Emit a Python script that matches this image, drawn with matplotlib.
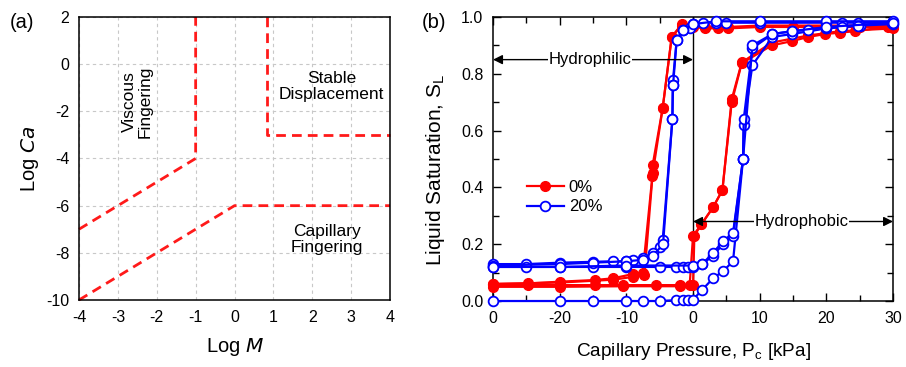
import matplotlib
matplotlib.use("Agg")
import matplotlib.pyplot as plt
from matplotlib.ticker import MultipleLocator

plt.rcParams['font.family'] = ['Liberation Sans', 'DejaVu Sans']
plt.rcParams['axes.unicode_minus'] = False
plt.rcParams['mathtext.default'] = 'regular'

# ─────────── (a) phase diagram boundaries ───────────
vf_x = [-4, -1, -1]          # viscous fingering boundary
vf_y = [-7, -4, 2]
cf_x = [-4, 0, 4]            # capillary fingering boundary
cf_y = [-10, -6, -6]
sd_x = [0.83, 0.83, 4]       # stable displacement boundary
sd_y = [2, -3, -3]

# ─────────── (b) saturation loops ───────────
# 0 % – drainage (high Pc → low Pc)
r1_pc = [30, 25, 20, 15, 10, 5.3, 3.75, 1.8, 0, -1.7, -3.2, -4.55, -6.05, -6.1, -7.55, -9, -12, -14.7, -20, -24.7, -30]
r1_s  = [0.965, 0.965, 0.965, 0.965, 0.965, 0.96, 0.96, 0.96, 0.965, 0.97, 0.93, 0.68, 0.48, 0.44, 0.10, 0.095, 0.08, 0.074, 0.068, 0.062, 0.06]
# 0 % – imbibition (low Pc → high Pc)
r2_pc = [-30, -24.7, -20, -14.7, -10.5, -5.5, -2, -0.5, 0, 1.25, 3, 4.4, 5.8, 7.3, 11.8, 14.8, 17.3, 19.8, 22, 24.3, 29.2]
r2_s  = [0.056, 0.056, 0.056, 0.056, 0.056, 0.056, 0.056, 0.058, 0.23, 0.27, 0.33, 0.39, 0.70, 0.837, 0.90, 0.915, 0.93, 0.94, 0.945, 0.95, 0.966]
# 0 % – second cycle
r3_pc = [30, 20, 10, 5.3, 1.8, 0, -1.7, -3.2, -4.55, -6.05, -7.3, -9, -12, -20, -30]
r3_s  = [0.97, 0.97, 0.97, 0.965, 0.965, 0.97, 0.975, 0.93, 0.68, 0.45, 0.09, 0.085, 0.075, 0.065, 0.06]
r4_pc = [-30, -20, -10.5, -2, 0, 0.2, 1.25, 3, 4.4, 5.8, 7.3, 11.8, 17.3, 22, 30]
r4_s  = [0.05, 0.05, 0.052, 0.052, 0.055, 0.23, 0.27, 0.33, 0.39, 0.71, 0.84, 0.91, 0.935, 0.95, 0.96]

# 20 % – first imbibition (starts dry)
b0_pc = [-30, -20, -15, -10, -7.5, -5, -2.5, -1.5, -0.75, 0, 1.4, 3, 4.5, 6, 7.5, 7.6, 8.9, 11.9, 14.8, 20, 25, 30]
b0_s  = [0.0, 0.0, 0.0, 0.0, 0.0, 0.0, 0.003, 0.004, 0.005, 0.005, 0.04, 0.08, 0.105, 0.14, 0.50, 0.62, 0.83, 0.93, 0.94, 0.96, 0.97, 0.975]
# 20 % – drainage
b1_pc = [29.8, 24.8, 22.3, 20, 10, 5, 3.5, 1.55, 0, -0.5, -1.5, -2.45, -3, -3.05, -3.1, -4.55, -5, -6, -7.5, -9, -10, -12, -15, -20, -25, -30]
b1_s  = [0.98, 0.98, 0.98, 0.98, 0.98, 0.98, 0.98, 0.98, 0.975, 0.96, 0.955, 0.92, 0.78, 0.76, 0.64, 0.215, 0.19, 0.17, 0.15, 0.145, 0.14, 0.14, 0.138, 0.135, 0.13, 0.13]
# 20 % – imbibition
b2_pc = [-30, -25, -20, -15, -10, -5, -2.5, -1.5, -0.75, 0, 1.4, 3, 4.5, 6, 7.5, 7.6, 8.9, 11.9, 14.8, 17.3, 20, 22.3, 24.8, 29.8]
b2_s  = [0.12, 0.12, 0.12, 0.12, 0.12, 0.12, 0.12, 0.12, 0.12, 0.12, 0.13, 0.16, 0.20, 0.23, 0.50, 0.64, 0.89, 0.94, 0.95, 0.955, 0.96, 0.965, 0.97, 0.98]
# 20 % – second cycle
b3_pc = [30, 20, 10, 3.5, 0, -1.5, -2.45, -3, -3.1, -4.5, -6, -7.5, -10, -15, -20, -30]
b3_s  = [0.985, 0.985, 0.985, 0.985, 0.975, 0.955, 0.92, 0.76, 0.64, 0.20, 0.16, 0.145, 0.14, 0.135, 0.13, 0.125]
b4_pc = [-30, -20, -10, 0, 1.4, 3, 4.5, 6, 7.5, 8.9, 11.9, 14.8, 20, 30]
b4_s  = [0.12, 0.12, 0.125, 0.125, 0.13, 0.17, 0.21, 0.24, 0.50, 0.90, 0.94, 0.95, 0.965, 0.98]

red_sets  = [(r1_pc, r1_s), (r2_pc, r2_s), (r3_pc, r3_s), (r4_pc, r4_s)]
blue_sets = [(b0_pc, b0_s), (b1_pc, b1_s), (b2_pc, b2_s), (b3_pc, b3_s), (b4_pc, b4_s)]

fig = plt.figure(figsize=(9.06, 3.67), dpi=100)

# ─────────── panel (a) ───────────
ax1 = fig.add_axes([0.0872, 0.1826, 0.3433, 0.7711])
for xs, ys in [(vf_x, vf_y), (cf_x, cf_y), (sd_x, sd_y)]:
    ax1.plot(xs, ys, color="#ff1a1a", lw=2.0, ls=(0, (3.5, 2.2)), clip_on=False)
ax1.set_xlim(-4, 4)
ax1.set_ylim(-10, 2)
ax1.set_xticks(range(-4, 5))
ax1.set_yticks(range(-10, 3, 2))
ax1.grid(True, color="#c8c8c8", ls=(0, (3, 3)), lw=0.8)
ax1.tick_params(length=0, labelsize=11.5, pad=7)
ax1.set_xlabel("Log $\\it{M}$", fontsize=14.5, labelpad=8)
ax1.set_ylabel("Log $\\it{Ca}$", fontsize=14.5, labelpad=4)
ax1.text(-2.5, -1.6, "Viscous\nFingering", rotation=90, ha="center", va="center",
         fontsize=12.5, linespacing=1.1)
ax1.text(2.5, -0.95, "Stable\nDisplacement", ha="center", va="center",
         fontsize=12.5, linespacing=1.1)
ax1.text(2.37, -7.45, "Capillary\nFingering", ha="center", va="center",
         fontsize=12.5, linespacing=1.1)
for s in ax1.spines.values():
    s.set_linewidth(1.1)
fig.text(0.011, 0.94, "(a)", fontsize=14.5, ha="left", va="center")

# ─────────── panel (b) ───────────
ax2 = fig.add_axes([0.5442, 0.1798, 0.4415, 0.7738])
for i, (pc, s) in enumerate(red_sets):
    ax2.plot(pc, s, color="#ff0000", lw=1.6, marker="o", ms=7, mfc="#ff0000",
             mec="#ff0000", label="0%" if i == 0 else None, zorder=3, clip_on=False)
for i, (pc, s) in enumerate(blue_sets):
    ax2.plot(pc, s, color="#0000ff", lw=1.6, marker="o", ms=7, mfc="white",
             mec="#0000ff", mew=1.3, label="20%" if i == 0 else None, zorder=4, clip_on=False)
ax2.axvline(0, color="black", lw=1.0, zorder=2)

ax2.annotate("", xy=(-30, 0.85), xytext=(0, 0.85),
             arrowprops=dict(arrowstyle="<|-|>", color="black", lw=1.0,
                             mutation_scale=14, shrinkA=0, shrinkB=0), zorder=5)
ax2.text(-15.5, 0.85, "Hydrophilic", ha="center", va="center", fontsize=12,
         bbox=dict(fc="white", ec="none", pad=0.5), zorder=6)
ax2.annotate("", xy=(0, 0.28), xytext=(30, 0.28),
             arrowprops=dict(arrowstyle="<|-|>", color="black", lw=1.0,
                             mutation_scale=14, shrinkA=0, shrinkB=0), zorder=5)
ax2.text(16.3, 0.28, "Hydrophobic", ha="center", va="center", fontsize=12,
         bbox=dict(fc="white", ec="none", pad=0.5), zorder=6)

ax2.set_xlim(-30, 30)
ax2.set_ylim(0, 1)
ax2.set_xticks(range(-30, 31, 10))
ax2.set_xticklabels(["0", "-20", "-10", "0", "10", "20", "30"])
ax2.set_yticks([0, 0.2, 0.4, 0.6, 0.8, 1.0])
ax2.set_yticklabels(["0.0", "0.2", "0.4", "0.6", "0.8", "1.0"])
ax2.xaxis.set_minor_locator(MultipleLocator(5))
ax2.yaxis.set_minor_locator(MultipleLocator(0.1))
ax2.tick_params(which="both", direction="in", top=True, right=True, labelsize=11.5, pad=7)
ax2.tick_params(which="major", length=6, width=1)
ax2.tick_params(which="minor", length=4, width=1)
ax2.set_xlabel("Capillary Pressure, P$_{c}$ [kPa]", fontsize=13.7, labelpad=11)
ax2.set_ylabel("Liquid Saturation, S$_{L}$", fontsize=15)
ax2.yaxis.set_label_coords(-0.115, 0.46)
for s in ax2.spines.values():
    s.set_linewidth(1.1)
ax2.legend(loc="center left", bbox_to_anchor=(0.085, 0.365), frameon=False, fontsize=12,
           handlelength=2.2, handletextpad=0.3, labelspacing=0.25, borderpad=0,
           borderaxespad=0)
fig.text(0.466, 0.94, "(b)", fontsize=14.5, ha="left", va="center")

fig.savefig("out.png", dpi=100)
